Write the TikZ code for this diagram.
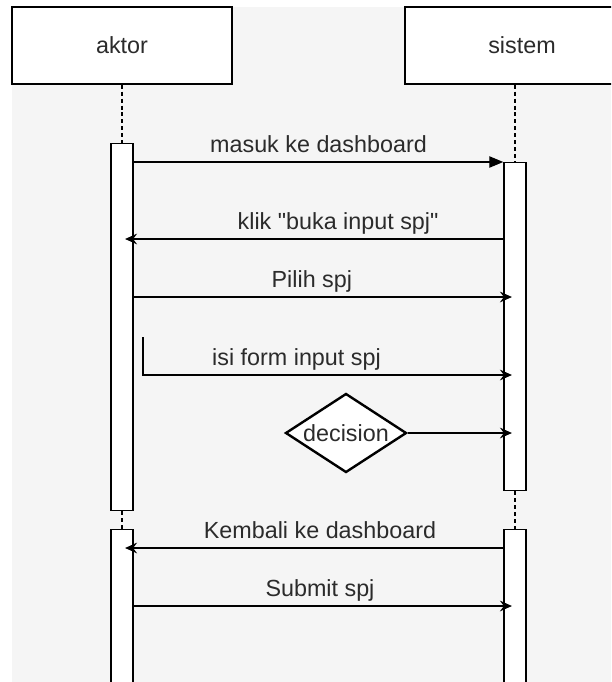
\documentclass[tikz,border=0pt]{standalone}
\usepackage{fontspec}
\setmainfont{Liberation Sans}[Ligatures=TeXOff]
\usetikzlibrary{arrows.meta,shapes.geometric}
\definecolor{canvas}{HTML}{F5F5F5}
\definecolor{ink}{HTML}{2B2B2B}
\tikzset{head/.style={draw,fill=white,line width=1.1pt,minimum height=57.75pt,text=ink},act/.style={draw,fill=white,line width=1.1pt,minimum width=16.5pt,anchor=north},life/.style={dash pattern=on 3pt off 2.2pt,line width=1pt},msg/.style={line width=1pt,-{Stealth[length=9pt,width=8pt,inset=3pt]},shorten >=-6.5pt},call/.style={line width=1pt,-{Triangle[length=10.5pt,width=8.5pt]}},lbl/.style={above=4.5pt,inner sep=0pt,text=ink,text height=0.75em,text depth=0.2em},choice/.style={draw,diamond,fill=white,line width=1.8pt,inner sep=0pt,minimum width=90.75pt,minimum height=59.25pt,text=ink}}

\begin{document}
\begin{tikzpicture}[x=0.75pt,y=-0.75pt,font=\fontsize{17.5}{21}\selectfont]
\useasboundingbox (0,0) rectangle (611,682);
\clip (0,0) rectangle (611,682);
\fill[canvas] (12,7) rectangle (611,682);
\node[head,minimum width=165pt] (aktor) at (122,45.5) {aktor};
\node[head,minimum width=175.5pt] (sistem) at (522,45.5) {sistem};
\node[act,minimum height=275.25pt] (a1) at (122,143) {};
\node[act,minimum height=150pt] (a2) at (122,529) {};
\node[act,minimum height=246pt] (s1) at (515,162) {};
\node[act,minimum height=150pt] (s2) at (515,529) {};
\node[choice] (dec) at (346,433) {\makebox[0pt]{decision}};
\coordinate (y1) at (0,162); \coordinate (y2) at (0,239); \coordinate (y3) at (0,297); \coordinate (f0) at (143,337); \coordinate (y4) at (0,375); \coordinate (y6) at (0,548); \coordinate (y7) at (0,606);
\draw[life] (aktor) -- (a1); \draw[life] (a1) -- (a2); \draw[life] (s1.north |- sistem.south) -- (s1.north); \draw[life] (s1) -- (s2);
\draw[call] (a1.east |- y1) -- node[lbl]{masuk ke dashboard} (s1.north west);
\draw[msg] (s1.west |- y2) -- node[lbl,pos=0.447]{klik "buka input spj"} (a1.east |- y2);
\draw[msg] (a1.east |- y3) -- node[lbl,pos=0.482]{Pilih spj} (s1.west |- y3);
\draw[msg] (f0) |- node[lbl,pos=0.713]{isi form input spj} (s1.west |- y4);
\draw[msg] (dec) -- (s1.west |- dec);
\draw[msg] (s2.west |- y6) -- node[lbl,pos=0.496]{Kembali ke dashboard} (a2.east |- y6);
\draw[msg] (a2.east |- y7) -- node[lbl,pos=0.504]{Submit spj} (s2.west |- y7);
\end{tikzpicture}
\end{document}
